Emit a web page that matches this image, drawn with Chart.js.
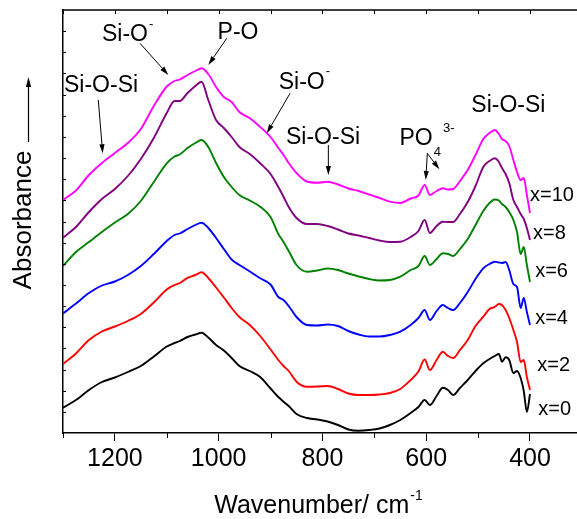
<!DOCTYPE html>
<html>
<head>
<meta charset="utf-8">
<script src="https://cdn.jsdelivr.net/npm/chart.js@4.4.1/dist/chart.umd.min.js"></script>
<style>
  html, body { margin: 0; padding: 0; background: #fff; }
  #wrap { width: 577px; height: 519px; position: relative; }
</style>
</head>
<body>
<div id="wrap"><canvas id="c"></canvas></div>
<script>
// FTIR spectra, x-axis reversed (wavenumber), curves offset vertically
const wavenumbers = [1300, 1275, 1250, 1225, 1200, 1175, 1150, 1125, 1100, 1085,
  1075, 1060, 1045, 1033, 1020, 1005, 990, 975, 960, 940,
  920, 900, 885, 875, 865, 850, 830, 810, 790, 770,
  750, 730, 710, 690, 670, 650, 630, 615, 603, 593,
  580, 568, 558, 548, 535, 520, 505, 490, 478, 468,
  460, 454, 447, 440, 432, 425, 418, 412, 406, 400];

const absX0 = [0.253, 0.33, 0.43, 0.51, 0.555, 0.61, 0.67, 0.765, 0.865, 0.90,
  0.92, 0.96, 0.985, 1.003, 0.955, 0.88, 0.825, 0.75, 0.67, 0.62,
  0.56, 0.445, 0.36, 0.313, 0.27, 0.19, 0.15, 0.135, 0.115, 0.08,
  0.035, 0.023, 0.03, 0.045, 0.08, 0.13, 0.20, 0.26, 0.33, 0.28,
  0.37, 0.453, 0.43, 0.38, 0.45, 0.53, 0.62, 0.697, 0.74, 0.77,
  0.79, 0.713, 0.757, 0.73, 0.60, 0.62, 0.55, 0.42, 0.21, 0.39];
const absX2 = [0.69, 0.795, 0.93, 1.015, 1.065, 1.12, 1.19, 1.305, 1.435, 1.48,
  1.50, 1.552, 1.58, 1.607, 1.55, 1.455, 1.355, 1.25, 1.16, 1.08,
  0.97, 0.835, 0.73, 0.67, 0.62, 0.513, 0.463, 0.465, 0.47, 0.44,
  0.395, 0.38, 0.38, 0.385, 0.40, 0.44, 0.53, 0.615, 0.735, 0.63,
  0.73, 0.813, 0.77, 0.75, 0.83, 0.93, 1.07, 1.163, 1.24, 1.26,
  1.29, 1.28, 1.23, 1.15, 1.03, 0.91, 0.71, 0.73, 0.56, 0.43];
const absX4 = [1.195, 1.295, 1.40, 1.475, 1.515, 1.58, 1.67, 1.79, 1.92, 1.98,
  1.995, 2.04, 2.08, 2.103, 2.05, 1.95, 1.84, 1.735, 1.68, 1.615,
  1.547, 1.485, 1.36, 1.33, 1.27, 1.16, 1.08, 1.075, 1.085, 1.07,
  1.02, 0.985, 0.965, 0.965, 0.98, 1.013, 1.08, 1.15, 1.23, 1.13,
  1.22, 1.28, 1.25, 1.23, 1.30, 1.41, 1.54, 1.647, 1.69, 1.713,
  1.705, 1.70, 1.71, 1.63, 1.49, 1.46, 1.25, 1.35, 1.21, 1.08];
const absX6 = [1.67, 1.81, 1.91, 2.01, 2.105, 2.19, 2.32, 2.51, 2.697, 2.765,
  2.785, 2.85, 2.90, 2.93, 2.86, 2.70, 2.56, 2.46, 2.38, 2.325,
  2.263, 2.16, 1.99, 1.91, 1.82, 1.68, 1.613, 1.625, 1.645, 1.63,
  1.595, 1.565, 1.54, 1.525, 1.53, 1.563, 1.63, 1.67, 1.77, 1.68,
  1.74, 1.797, 1.79, 1.77, 1.84, 1.94, 2.08, 2.22, 2.30, 2.335,
  2.325, 2.29, 2.26, 2.21, 2.13, 2.01, 1.79, 1.86, 1.68, 1.51];
const absX8 = [1.953, 2.06, 2.21, 2.34, 2.44, 2.57, 2.74, 2.95, 3.20, 3.32,
  3.32, 3.40, 3.47, 3.513, 3.33, 3.13, 3.05, 2.96, 2.86, 2.79,
  2.697, 2.59, 2.46, 2.363, 2.26, 2.15, 2.09, 2.09, 2.07, 2.035,
  1.995, 1.975, 1.95, 1.925, 1.91, 1.913, 1.96, 2.02, 2.13, 2.00,
  2.07, 2.113, 2.11, 2.11, 2.19, 2.31, 2.47, 2.66, 2.72, 2.747,
  2.71, 2.65, 2.59, 2.50, 2.33, 2.26, 2.19, 2.14, 2.05, 1.93];
const absX10 = [2.33, 2.425, 2.58, 2.70, 2.80, 2.90, 3.04, 3.27, 3.465, 3.52,
  3.535, 3.58, 3.62, 3.647, 3.59, 3.46, 3.36, 3.31, 3.21, 3.147,
  3.06, 2.96, 2.85, 2.78, 2.70, 2.60, 2.515, 2.503, 2.513, 2.485,
  2.445, 2.42, 2.385, 2.35, 2.313, 2.30, 2.345, 2.375, 2.48, 2.38,
  2.42, 2.447, 2.435, 2.44, 2.52, 2.63, 2.78, 2.94, 3.00, 3.03,
  2.99, 2.94, 2.92, 2.87, 2.73, 2.61, 2.53, 2.55, 2.38, 2.20];

const seriesNames = ['x=0', 'x=2', 'x=4', 'x=6', 'x=8', 'x=10'];
const seriesData = [absX0, absX2, absX4, absX6, absX8, absX10];
const seriesColors = ['#000000', '#ff0000', '#0000ff', '#008000', '#800080', '#ff00ff'];

const majorTicks = [1200, 1000, 800, 600, 400];
const minorTicks = [1300, 1100, 900, 700, 500];

// series labels next to the curve ends (data coords: wavenumber, absorbance)
const seriesLabelPos = [[384, 0.24], [386, 0.68], [390, 1.145], [390, 1.615], [394, 2.00], [400, 2.38]];

// band assignments
const bandLabels = [
  { text: 'Si-O-Si', w: 1226.7, a: 3.475 },
  { text: 'Si-O', sup: '-', w: 1180.5, a: 3.98 },
  { text: 'P-O', w: 962.7, a: 4.005 },
  { text: 'Si-O', sup: '-', w: 839.9, a: 3.505 },
  { text: 'Si-O-Si', w: 798.8, a: 2.955 },
  { text: 'PO', sub: '4', sup: '3-', w: 619.5, a: 2.94 },
  { text: 'Si-O-Si', w: 441.6, a: 3.27 }
];
const bandArrows = [
  [1232, 3.33, 1223.5, 2.797],
  [1151.6, 3.897, 1097, 3.58],
  [984.4, 3.947, 1019.9, 3.68],
  [862.4, 3.397, 907.3, 2.997],
  [788.6, 2.88, 788.6, 2.58],
  [597.8, 2.80, 600.9, 2.53],
  [597, 2.79, 574.6, 2.637]
];

const FONT = '"Liberation Sans", Arial, sans-serif';

function arrow(ctx, x1, y1, x2, y2, head) {
  const ang = Math.atan2(y2 - y1, x2 - x1);
  const hx = x2 - head * Math.cos(ang), hy = y2 - head * Math.sin(ang);
  ctx.beginPath();
  ctx.moveTo(x1, y1);
  ctx.lineTo(hx, hy);
  ctx.stroke();
  ctx.beginPath();
  ctx.moveTo(x2, y2);
  ctx.lineTo(hx + 2.6 * Math.sin(ang), hy - 2.6 * Math.cos(ang));
  ctx.lineTo(hx - 2.6 * Math.sin(ang), hy + 2.6 * Math.cos(ang));
  ctx.closePath();
  ctx.fill();
}

const decorations = {
  id: 'decorations',
  afterDraw(chart) {
    const { ctx, chartArea: ca, scales: { x, y } } = chart;
    ctx.save();
    ctx.strokeStyle = '#000';
    ctx.fillStyle = '#000';

    // top frame line + ticks
    ctx.lineWidth = 1.5;
    ctx.beginPath();
    ctx.moveTo(ca.left, ca.top);
    ctx.lineTo(ca.right, ca.top);
    ctx.stroke();
    ctx.lineWidth = 1;
    [...majorTicks, ...minorTicks].forEach(v => {
      const px = Math.round(x.getPixelForValue(v)) + 0.5;
      ctx.beginPath(); ctx.moveTo(px, ca.top); ctx.lineTo(px, ca.top + 4); ctx.stroke();
    });
    // minor bottom ticks (outward)
    minorTicks.forEach(v => {
      const px = Math.round(x.getPixelForValue(v)) + 0.5;
      ctx.beginPath(); ctx.moveTo(px, ca.bottom); ctx.lineTo(px, ca.bottom + 5); ctx.stroke();
    });
    // left inward ticks
    for (let i = 1; i < 20; i++) {
      const py = Math.round(y.getPixelForValue(i * 4.23 / 20)) + 0.5;
      ctx.beginPath(); ctx.moveTo(ca.left, py); ctx.lineTo(ca.left + 3, py); ctx.stroke();
    }

    // band labels
    ctx.textBaseline = 'middle';
    bandLabels.forEach(l => {
      const cx = x.getPixelForValue(l.w), cy = y.getPixelForValue(l.a);
      ctx.font = `23px ${FONT}`;
      ctx.textAlign = 'center';
      ctx.fillText(l.text, cx, cy);
      const end = cx + ctx.measureText(l.text).width / 2;
      ctx.textAlign = 'left';
      ctx.font = `13px ${FONT}`;
      let subW = 0;
      if (l.sub) {
        ctx.fillText(l.sub, end + 1, cy + 13);
        subW = ctx.measureText(l.sub).width + 2;
      }
      if (l.sup) ctx.fillText(l.sup, end + 1 + subW, cy - 11);
    });

    // arrows
    ctx.lineWidth = 1;
    bandArrows.forEach(([w1, a1, w2, a2]) => {
      arrow(ctx, x.getPixelForValue(w1), y.getPixelForValue(a1),
        x.getPixelForValue(w2), y.getPixelForValue(a2), 9);
    });

    // series labels
    ctx.font = `20px ${FONT}`;
    ctx.textAlign = 'left';
    seriesNames.forEach((n, i) => {
      const [w, a] = seriesLabelPos[i];
      ctx.fillText(n, x.getPixelForValue(w), y.getPixelForValue(a));
    });

    // x-axis title with superscript
    ctx.font = `25px ${FONT}`;
    const main = 'Wavenumber/ cm';
    const mw = ctx.measureText(main).width;
    ctx.font = `14px ${FONT}`;
    const sw = ctx.measureText('-1').width;
    const tx = 318 - (mw + sw) / 2;
    ctx.font = `25px ${FONT}`;
    ctx.fillText(main, tx, 506);
    ctx.font = `14px ${FONT}`;
    ctx.fillText('-1', tx + mw + 1, 496);

    // y-axis title with arrow
    ctx.save();
    ctx.translate(24, 220);
    ctx.rotate(-Math.PI / 2);
    ctx.font = `26px ${FONT}`;
    ctx.textAlign = 'center';
    ctx.fillText('Absorbance', 0, 0);
    ctx.restore();
    ctx.lineWidth = 1.2;
    arrow(ctx, 28.5, 142, 28.5, 77, 10);

    ctx.restore();
  }
};

new Chart(document.getElementById('c'), {
  type: 'line',
  data: {
    datasets: seriesData.map((vals, i) => ({
      label: seriesNames[i],
      data: wavenumbers.map((w, j) => ({ x: w, y: vals[j] })),
      borderColor: seriesColors[i],
      borderWidth: 1.9,
      pointRadius: 0,
      fill: false,
      cubicInterpolationMode: 'monotone'
    }))
  },
  options: {
    responsive: true,
    maintainAspectRatio: false,
    animation: false,
    events: [],
    layout: { padding: { left: 63, top: 10, right: 0, bottom: 0 } },
    plugins: { legend: { display: false }, tooltip: { enabled: false } },
    scales: {
      x: {
        type: 'linear',
        reverse: true,
        min: 309.4,
        max: 1300,
        afterBuildTicks: s => { s.ticks = majorTicks.map(v => ({ value: v })); },
        afterFit: s => { s.height = 86; },
        ticks: {
          font: { size: 25, family: FONT }, color: '#000', padding: 3,
          maxRotation: 0, autoSkip: false, callback: v => String(v)
        },
        grid: { drawOnChartArea: false, drawTicks: true, tickLength: 8, tickColor: '#000', tickWidth: 1 },
        border: { color: '#000', width: 1.5 }
      },
      y: {
        min: 0,
        max: 4.23,
        afterFit: s => { s.width = 0; },
        ticks: { display: false },
        grid: { display: false },
        border: { color: '#000', width: 1.5 }
      }
    }
  },
  plugins: [decorations]
});
</script>
</body>
</html>
